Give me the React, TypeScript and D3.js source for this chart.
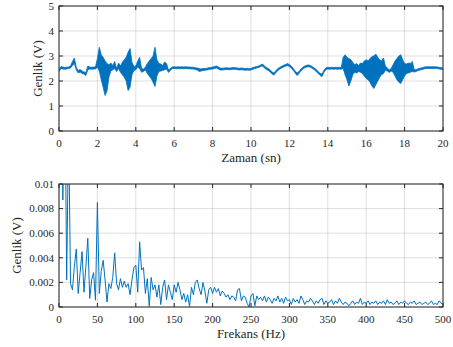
import React from "react";
import * as d3 from "d3";

const width = 453;
const height = 347;

// time signal, min / max envelope read every 0.1 s from 0 to 20 s
const timeStep = 0.1;
const signalLow = [
  2.38, 2.5, 2.48, 2.47, 2.48, 2.5, 2.52, 2.62, 2.7, 2.45,
  2.32, 2.36, 2.3, 2.28, 2.22, 2.45, 2.48, 2.47, 2.48, 2.48,
  2.55, 2.4, 2.05, 1.75, 1.42, 1.6, 2.15, 2.4, 2.45, 2.5,
  2.38, 2.5, 2.35, 2.25, 2.15, 2.0, 1.62, 1.75, 2.25, 2.42,
  2.45, 2.55, 2.5, 2.35, 2.38, 2.45, 2.3, 2.2, 2.1, 1.95,
  1.78, 2.2, 2.38, 2.4, 2.42, 2.45, 2.48, 2.34, 2.42, 2.5,
  2.5, 2.49, 2.5, 2.49, 2.5, 2.49, 2.5, 2.49, 2.49, 2.48,
  2.48, 2.46, 2.44, 2.38, 2.4, 2.42, 2.43, 2.44, 2.46, 2.47,
  2.48, 2.5, 2.52, 2.48, 2.44, 2.44, 2.45, 2.46, 2.46, 2.45,
  2.46, 2.47, 2.47, 2.45, 2.44, 2.45, 2.44, 2.43, 2.44, 2.43,
  2.44, 2.47, 2.5, 2.52, 2.54, 2.58, 2.6, 2.52, 2.46, 2.42,
  2.36, 2.28, 2.24, 2.34, 2.42, 2.48, 2.52, 2.56, 2.59, 2.62,
  2.58, 2.52, 2.42, 2.32, 2.22, 2.3, 2.4, 2.48, 2.53, 2.56,
  2.57, 2.55, 2.5, 2.45, 2.38, 2.3, 2.22, 2.18, 2.35, 2.46,
  2.48, 2.47, 2.48, 2.47, 2.48, 2.47, 2.48, 2.47, 2.5, 2.25,
  2.05, 1.8, 2.0, 2.25, 2.35, 2.32, 2.38, 2.35, 2.3, 2.2,
  2.1, 2.05, 1.95, 1.8, 1.7, 1.85, 2.0, 2.15, 2.25, 2.3,
  2.42, 2.4, 2.34, 2.4, 2.35, 2.2, 2.05, 1.95, 1.9, 2.05,
  2.2, 2.3, 2.32, 2.35, 2.38, 2.36, 2.38, 2.42, 2.44, 2.46,
  2.48, 2.5, 2.5, 2.5, 2.5, 2.5, 2.5, 2.5, 2.48, 2.47,
  2.46,
];
const signalHigh = [
  2.44, 2.58, 2.56, 2.54, 2.55, 2.56, 2.6, 2.78, 2.92, 2.55,
  2.42, 2.46, 2.4, 2.36, 2.34, 2.6, 2.56, 2.55, 2.56, 2.56,
  2.9, 3.35, 3.05, 2.95, 2.8, 2.7, 2.65, 2.72, 2.62, 2.78,
  2.5, 2.72, 2.6, 2.75, 2.85, 2.95, 3.15, 3.3, 2.75, 2.58,
  2.6, 2.8, 2.95, 2.5, 2.48, 2.55, 2.7, 2.8, 2.9, 3.0,
  3.35, 2.85, 2.7, 2.68, 2.62, 2.76, 2.7, 2.44, 2.5, 2.56,
  2.57, 2.56, 2.57, 2.56, 2.57, 2.56, 2.57, 2.56, 2.56, 2.55,
  2.55, 2.53, 2.52, 2.5, 2.48, 2.5, 2.5, 2.51, 2.53, 2.54,
  2.56, 2.58, 2.6, 2.56, 2.52, 2.51, 2.52, 2.53, 2.52, 2.52,
  2.53, 2.54, 2.53, 2.52, 2.51, 2.52, 2.51, 2.5, 2.51, 2.49,
  2.5, 2.54, 2.56, 2.58, 2.6, 2.64, 2.68, 2.6, 2.54, 2.5,
  2.44, 2.36, 2.32, 2.42, 2.5, 2.55, 2.59, 2.63, 2.66, 2.7,
  2.66, 2.6, 2.5, 2.4, 2.32, 2.38, 2.48, 2.55, 2.6, 2.63,
  2.64, 2.62, 2.57, 2.52, 2.46, 2.38, 2.3, 2.28, 2.43, 2.53,
  2.55, 2.54, 2.55, 2.54, 2.55, 2.54, 2.55, 2.54, 2.95, 3.05,
  2.95, 2.9, 2.85, 2.75, 2.65, 2.7, 2.62, 2.72, 2.7, 2.8,
  2.85, 2.8, 2.9, 2.98, 3.0, 3.08, 2.95, 2.85, 2.8, 2.92,
  2.6, 2.52, 2.44, 2.5, 2.65, 2.8, 2.9, 3.0, 3.05, 2.85,
  2.7, 2.68, 2.72, 2.7, 2.78, 2.46, 2.45, 2.49, 2.51, 2.53,
  2.55, 2.57, 2.57, 2.57, 2.57, 2.57, 2.57, 2.56, 2.55, 2.53,
  2.52,
];

// amplitude spectrum in mV, one value every 2.5 Hz from 0 to 500 Hz
const freqStep = 2.5;
const spectrumMilliVolt = [
  60, 30, 8.7, 20, 2.2, 15, 1.9, 1.4, 3.3, 4.7, 1.1, 2.8, 4.5, 1.2, 3.3, 5.6, 0.7, 2.2, 2.8, 0.55,
  8.5, 1.1, 2.9, 3.8, 2.2, 0.4, 1.9, 1.5, 2.4, 4.4, 1.9, 1.4, 2.3, 1.6, 2.1, 1.6, 1.9, 1.0, 2.2, 3.2,
  3.4, 1.2, 5.3, 3.0, 3.2, 1.1, 2.3, 0.05, 2.4, 1.4, 1.8, 0.8, 1.8, 0.2, 1.6, 2.2, 0.6, 1.8, 1.2, 0.6,
  1.8, 1.2, 2.0, 1.4, 0.6, 1.1, 0.4, 1.0, 0.05, 1.6, 1.0, 2.0, 2.2, 1.5, 1.0, 2.0, 1.3, 0.3, 1.4, 1.6,
  1.1, 1.6, 1.2, 1.5, 0.9, 1.3, 1.1, 0.8, 1.0, 0.6, 0.9, 0.8, 0.5, 1.4, 1.5, 0.5, 0.9, 0.8, 0.3, 0.0,
  0.9, 1.1, 0.1, 0.9, 0.6, 0.8, 0.5, 0.9, 0.4, 0.8, 0.6, 0.3, 0.7, 0.5, 0.9, 0.4, 0.7, 0.3, 0.8, 0.5,
  0.6, 0.2, 0.7, 0.4, 0.6, 0.3, 0.9, 0.6, 0.2, 0.5, 0.4, 0.7, 0.5, 0.2, 0.5, 0.3, 0.6, 0.7, 0.2, 0.5,
  0.3, 0.4, 0.6, 0.2, 0.5, 0.3, 0.7, 0.4, 0.2, 0.4, 0.3, 0.1, 0.3, 0.5, 0.2, 0.4, 0.3, 0.7, 0.2, 0.4,
  0.3, 0.5, 0.2, 0.4, 0.3, 0.5, 0.2, 0.4, 0.3, 0.5, 0.2, 0.6, 0.3, 0.4, 0.2, 0.3, 0.5, 0.2, 0.4, 0.3,
  0.5, 0.3, 0.2, 0.4, 0.3, 0.5, 0.2, 0.3, 0.4, 0.2, 0.3, 0.4, 0.2, 0.3, 0.5, 0.2, 0.3, 0.2, 0.5, 0.3,
  0.2,
];

const timeTicks = [0, 2, 4, 6, 8, 10, 12, 14, 16, 18, 20];
const voltTicks = [0, 1, 2, 3, 4, 5];
const freqTicks = [0, 50, 100, 150, 200, 250, 300, 350, 400, 450, 500];
const ampTicks = [0, 0.002, 0.004, 0.006, 0.008, 0.01];
const ampTickLabels = ["0", "0.002", "0.004", "0.006", "0.008", "0.01"];

const lineColor = "#0072BD";
const axisColor = "#262626";
const font = "Liberation Serif";
const plotW = 384;
const tickLen = 4;

function Frame({ x, y, h, xTicks, yTicks, yLabels, xLabel, yLabelX, clipId, children }) {
  return (
    <g>
      <defs>
        <clipPath id={clipId}>
          <rect width={plotW} height={h} />
        </clipPath>
      </defs>
      {xTicks.map((t) => (
        <line key={"gx" + t} x1={x(t)} x2={x(t)} y1={0} y2={h} stroke={axisColor} strokeOpacity={0.15} />
      ))}
      {yTicks.map((t) => (
        <line key={"gy" + t} x1={0} x2={plotW} y1={y(t)} y2={y(t)} stroke={axisColor} strokeOpacity={0.15} />
      ))}
      <g clipPath={`url(#${clipId})`}>{children}</g>
      {xTicks.map((t) => (
        <g key={"tx" + t} stroke={axisColor}>
          <line x1={x(t)} x2={x(t)} y1={h} y2={h - tickLen} />
          <line x1={x(t)} x2={x(t)} y1={0} y2={tickLen} />
        </g>
      ))}
      {yTicks.map((t) => (
        <g key={"ty" + t} stroke={axisColor}>
          <line x1={0} x2={tickLen} y1={y(t)} y2={y(t)} />
          <line x1={plotW} x2={plotW - tickLen} y1={y(t)} y2={y(t)} />
        </g>
      ))}
      <rect width={plotW} height={h} fill="none" stroke={axisColor} strokeWidth={1} />
      <g fontFamily={font} fontSize={11} fill={axisColor}>
        {xTicks.map((t) => (
          <text key={"lx" + t} x={x(t)} y={h + 16} textAnchor="middle">
            {t}
          </text>
        ))}
        {yTicks.map((t, i) => (
          <text key={"ly" + t} x={-5} y={y(t)} dy="0.35em" textAnchor="end">
            {yLabels[i]}
          </text>
        ))}
      </g>
      <g fontFamily={font} fontSize={13} fill={axisColor} textAnchor="middle">
        <text x={plotW / 2} y={h + 31}>{xLabel}</text>
        <text transform={`translate(${yLabelX},${h / 2}) rotate(-90)`}>Genlik (V)</text>
      </g>
    </g>
  );
}

export default function App() {
  // top: time signal
  const h1 = 125;
  const x1 = d3.scaleLinear().domain([0, 20]).range([0, plotW]);
  const y1 = d3.scaleLinear().domain([0, 5]).range([h1, 0]);
  const signal = signalLow.map((lo, i) => ({ t: i * timeStep, lo, hi: signalHigh[i] }));
  const band = d3
    .area()
    .x((d) => x1(d.t))
    .y0((d) => y1(d.lo))
    .y1((d) => y1(d.hi));

  // bottom: spectrum
  const h2 = 123;
  const x2 = d3.scaleLinear().domain([0, 500]).range([0, plotW]);
  const y2 = d3.scaleLinear().domain([0, 0.01]).range([h2, 0]);
  const spectrum = spectrumMilliVolt.map((v, i) => ({ f: i * freqStep, a: v / 1000 }));
  const line = d3
    .line()
    .x((d) => x2(d.f))
    .y((d) => y2(d.a));

  return (
    <svg
      width={width}
      height={height}
      style={{ position: "absolute", left: 0, top: 0, background: "#fff" }}
    >
      <g transform="translate(59,6)">
        <Frame
          x={x1} y={y1} h={h1}
          xTicks={timeTicks} yTicks={voltTicks} yLabels={voltTicks.map(String)}
          xLabel="Zaman (sn)" yLabelX={-17} clipId="clip-top"
        >
          <path
            d={band(signal)}
            fill={lineColor}
            stroke={lineColor}
            strokeWidth={0.8}
            strokeLinejoin="round"
          />
        </Frame>
      </g>
      <g transform="translate(59,184)">
        <Frame
          x={x2} y={y2} h={h2}
          xTicks={freqTicks} yTicks={ampTicks} yLabels={ampTickLabels}
          xLabel="Frekans (Hz)" yLabelX={-38} clipId="clip-bottom"
        >
          <path
            d={line(spectrum)}
            fill="none"
            stroke={lineColor}
            strokeWidth={1}
            strokeLinejoin="round"
          />
        </Frame>
      </g>
    </svg>
  );
}
